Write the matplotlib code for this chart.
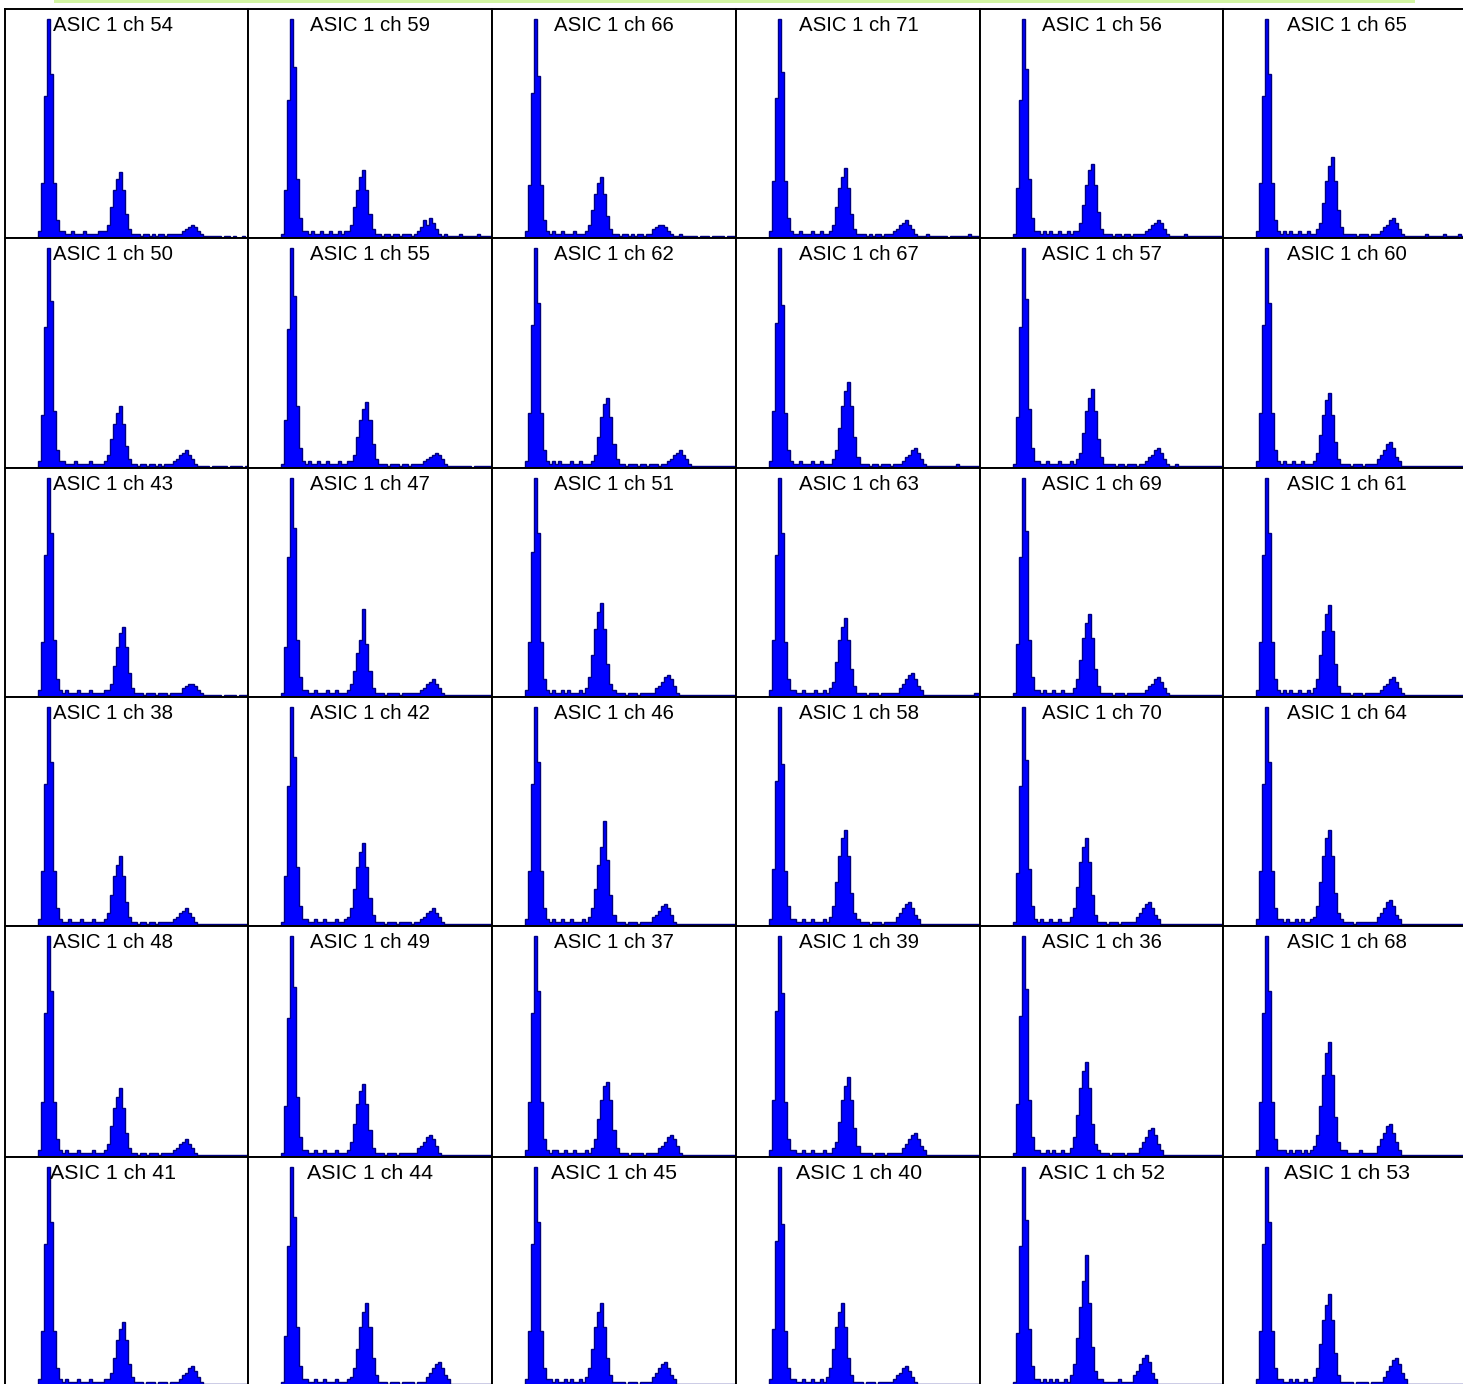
import numpy as np
import matplotlib
matplotlib.use("Agg")
import matplotlib.pyplot as plt
from matplotlib.patches import Rectangle

# ---- histogram bin contents (percent of pedestal peak), 3-px-wide bins ----
ch54 = [0,0,0,0,0,0,0,0,0,0,0, 3,25,65,100,75,25,8,3, 3,2,2,3,2,2,2,3,2,2,2,2,3,3, 3,6,14,22,27,30,22,11,4,2, 2,2,1,2,2,1,2,1,2,2,1,2,2,2,2, 2,3,4,5,6,5,3,2, 1,1,1,1,1,1,0,1,1,0,1,0,0,1,0]
ch59 = [0,0,0,0,0,0,0,0,0,0,0, 2,22,63,100,78,27,9,3, 3,2,3,2,2,3,2,2,3,2,2,3,2,3, 3,6,14,22,28,31,22,11,4,2, 2,1,2,2,1,2,2,1,2,2,2,1,2, 3,5,8,6,9,7,4,2, 1,2,1,1,1,1,2,1,1,1,1,1,2,1,1,1,1]
ch66 = [0,0,0,0,0,0,0,0,0,0,0, 3,24,66,100,74,24,8,3, 2,3,2,2,3,2,2,2,3,2,2,2, 3,6,13,20,25,28,20,10,4,2, 2,1,2,2,1,2,1,2,2,1,2, 2,4,5,6,6,5,3,2, 1,1,2,1,1,1,1,1,0,1,1,1,0,1,1,1,1,0,1,1,1]
ch71 = [0,0,0,0,0,0,0,0,0,0,0, 3,26,64,100,76,26,9,3, 2,2,3,2,2,2,3,2,2,3,2,2, 3,6,14,23,28,32,23,11,4,2, 2,2,1,2,1,2,2,1,2,2,2, 3,4,6,7,8,6,4,2, 1,1,1,2,1,1,1,1,1,1,0,1,1,1,1,1,1,2,1,1,1]
ch56 = [0,0,0,0,0,0,0,0,0,0,0, 2,23,63,100,77,27,9,3, 3,2,3,2,3,2,2,3,2,2,3,2,3, 3,7,15,24,31,34,24,12,4,2, 2,2,1,2,2,1,2,2,1,2,2,2,2, 3,4,6,7,8,7,4,2, 1,1,1,1,1,2,1,1,1,1,1,1,1,1,1,1,1,1]
ch65 = [0,0,0,0,0,0,0,0,0,0,0, 3,25,65,100,75,25,8,3, 2,3,2,3,2,2,3,2,2,3,2,2, 4,7,16,26,33,37,26,13,5,2, 2,2,2,1,2,2,2,1,2,2,2, 3,5,6,8,9,7,4,2, 1,1,1,1,1,1,1,2,1,1,1,1,1,2,1,1,1,1,2,1,1]

ch50 = [0,0,0,0,0,0,0,0,0,0,0, 3,24,64,100,76,26,8,3, 3,2,2,2,3,2,2,2,2,3,2,2,2,2, 3,6,13,20,25,28,20,10,4,2, 2,1,2,2,1,2,2,1,2,1,2,2,2, 3,4,6,7,8,6,4,2, 1,1,1,1,0,1,1,1,1,1,0,1,1,1,1,0,1]
ch55 = [0,0,0,0,0,0,0,0,0,0,0, 2,22,63,100,78,28,9,3, 2,3,2,2,3,2,2,3,2,2,2,3,2,2,3, 3,6,14,22,27,30,22,11,4,2, 2,2,1,2,2,2,1,2,2,1,2,2,2,2, 3,4,5,6,7,6,4,2, 1,1,1,1,1,1,1,1,0,1,1,1,1,1,1]
ch62 = [0,0,0,0,0,0,0,0,0,0,0, 3,25,65,100,75,25,8,3, 2,3,2,3,2,2,2,3,2,2,3,2,2,2, 3,6,14,23,29,32,23,11,4,2, 2,1,2,2,2,1,2,2,1,2,2,2,1,2,2, 3,4,6,7,8,6,4,2, 1,1,1,1,1,1,1,1,1,1,1,1,1,1,1]
ch67 = [0,0,0,0,0,0,0,0,0,0,0, 3,26,66,100,74,25,8,3, 2,2,3,2,2,2,3,2,2,3,2,2,2, 4,8,18,28,35,39,28,14,5,2, 2,2,1,2,2,1,2,2,2,1,2,2,2, 3,5,6,8,9,7,4,2, 1,1,1,1,1,1,1,1,1,1,2,1,1,1,1,1,1,1]
ch57 = [0,0,0,0,0,0,0,0,0,0,0, 2,23,64,100,77,27,9,3, 3,2,2,3,2,2,2,3,2,2,2,3,2, 4,7,16,26,32,36,26,13,5,2, 2,2,2,1,2,2,1,2,2,2,1,2,2, 3,5,6,8,9,7,4,2, 1,1,2,1,1,1,1,1,1,1,1,1,1,1,1,1,1,1]
ch60 = [0,0,0,0,0,0,0,0,0,0,0, 3,25,65,100,75,25,8,3, 2,3,2,2,3,2,2,3,2,2,2, 3,7,15,24,31,34,24,12,4,2, 2,2,1,2,2,2,1,2,2,2,2, 4,6,8,11,12,9,5,3, 1,1,1,1,1,1,1,1,1,1,1,1,1,1,1,1,1,1,1,1,1,2]

ch43 = [0,0,0,0,0,0,0,0,0,0,0, 3,25,65,100,75,26,8,3, 2,3,2,2,2,3,2,2,2,3,2,2,2,2,3, 3,6,14,23,29,32,23,11,4,2, 2,2,1,2,2,2,1,2,2,2,1,2,2,2, 2,4,5,6,6,5,3,2, 1,1,1,1,1,1,0,1,1,1,1,0,1,1,1]
ch47 = [0,0,0,0,0,0,0,0,0,0,0, 2,23,64,100,77,26,9,3, 3,2,2,3,2,2,2,3,2,2,3,2,2,2, 3,6,12,20,26,40,24,12,4,2, 2,2,1,2,2,2,2,1,2,2,2,2,2,2, 3,4,6,7,8,6,4,2, 1,1,1,1,1,1,1,1,1,1,1,1,1,1,1,1]
ch51 = [0,0,0,0,0,0,0,0,0,0,0, 3,25,66,100,75,25,8,3, 2,3,2,2,3,2,3,2,2,2,3,2, 4,9,19,31,39,43,31,15,6,3, 2,2,2,1,2,2,2,1,2,2,2,2,2, 4,5,7,9,10,8,5,2, 1,1,1,1,1,1,1,1,1,1,1,1,1,1,1,1,1,1,1]
ch63 = [0,0,0,0,0,0,0,0,0,0,0, 3,26,65,100,75,25,8,3, 3,2,2,3,2,2,2,3,2,2,3,2, 4,7,16,26,32,36,26,13,5,2, 2,2,1,2,2,2,1,2,2,2,2,2,2, 4,6,8,10,11,8,5,3, 1,1,1,1,1,1,1,1,1,1,1,1,1,1,1,1,1,2,2]
ch69 = [0,0,0,0,0,0,0,0,0,0,0, 2,24,64,100,76,26,9,3, 3,2,3,2,2,3,2,2,3,2,2,2, 4,8,17,27,34,38,27,13,5,2, 2,2,2,1,2,2,2,1,2,2,2,2,2,2, 3,5,6,8,9,7,4,2, 1,1,1,1,1,1,1,1,1,1,1,1,1,1,1,1,1,1]
ch61 = [0,0,0,0,0,0,0,0,0,0,0, 3,25,65,100,75,25,8,3, 2,3,2,3,2,2,3,2,2,3,2, 4,8,19,30,38,42,30,15,5,2, 2,2,1,2,2,2,1,2,2,2,2,2, 3,5,6,8,9,7,4,2, 1,1,1,1,1,1,1,1,1,1,1,1,1,1,1,1,1,1,1,1,1]

ch38 = [0,0,0,0,0,0,0,0,0,0,0, 3,25,65,100,75,25,8,3, 2,2,3,2,2,2,3,2,2,2,3,2,2,2, 3,6,14,23,28,32,23,11,4,2, 2,1,2,2,1,2,2,1,2,2,2,2,2, 3,4,6,7,8,6,4,2, 1,1,1,1,1,1,1,1,1,1,1,1,1,1,1,1,1]
ch42 = [0,0,0,0,0,0,0,0,0,0,0, 2,23,64,100,77,27,9,3, 3,2,2,3,2,2,3,2,2,2,3,2,2,3, 4,8,17,27,34,38,27,13,5,2, 2,2,1,2,2,2,1,2,2,2,2,1,2,2, 3,4,6,7,8,6,4,2, 1,1,1,1,1,1,1,1,1,1,1,1,1,1,1,1]
ch46 = [0,0,0,0,0,0,0,0,0,0,0, 3,25,65,100,75,25,8,3, 2,3,2,2,3,2,2,3,2,2,2,3,2, 4,8,17,28,36,48,30,14,5,2, 2,2,1,2,2,2,1,2,2,2,2, 4,5,7,9,10,8,5,2, 1,1,1,1,1,1,1,1,1,1,1,1,1,1,1,1,1,1,1,1]
ch58 = [0,0,0,0,0,0,0,0,0,0,0, 3,26,66,100,74,25,9,3, 3,2,2,3,2,2,3,2,2,2,3,2, 4,9,20,32,40,44,32,15,6,3, 2,2,2,1,2,2,2,1,2,2,2,2, 4,6,8,10,11,8,5,3, 1,1,1,1,1,1,1,1,1,1,1,1,1,1,1,1,1,1,1,1]
ch70 = [0,0,0,0,0,0,0,0,0,0,0, 2,24,64,100,76,26,9,3, 2,3,2,2,3,2,2,3,2,2,2, 4,8,18,29,36,40,29,14,5,2, 2,2,1,2,2,2,1,2,2,2,2,2, 4,6,8,10,11,8,5,3, 1,1,1,1,1,1,1,1,1,1,1,1,1,1,1,1,1,1,1,1,1]
ch64 = [0,0,0,0,0,0,0,0,0,0,0, 3,25,65,100,75,25,8,3, 3,2,3,2,2,3,2,3,2,2,3, 4,9,20,32,40,44,32,15,6,3, 2,2,2,1,2,2,2,2,2,2,2, 4,6,8,11,12,9,5,3, 1,1,1,1,1,1,1,1,1,1,1,1,1,1,1,1,1,1,1,1,1,1]

ch48 = [0,0,0,0,0,0,0,0,0,0,0, 3,25,65,100,75,25,8,3, 2,3,2,2,2,3,2,2,2,2,3,2,2,2, 3,6,14,22,27,31,22,11,4,2, 2,1,2,2,1,2,2,2,1,2,2,2,2, 3,4,6,7,8,6,4,2, 1,1,1,1,1,1,1,1,1,1,1,1,1,1,1,1,1]
ch49 = [0,0,0,0,0,0,0,0,0,0,0, 2,23,63,100,77,27,9,3, 3,2,2,3,2,2,3,2,2,2,3,2,2,2, 3,7,15,24,30,33,24,12,4,2, 2,2,1,2,2,2,1,2,2,2,2,2,2, 4,5,7,9,10,8,5,2, 1,1,1,1,1,1,1,1,1,1,1,1,1,1,1,1,1]
ch37 = [0,0,0,0,0,0,0,0,0,0,0, 3,25,65,100,75,25,8,3, 2,3,3,2,2,3,2,2,3,2,2,2,3,2, 4,8,17,26,32,34,26,12,4,2, 2,2,1,2,2,2,2,1,2,2,2,2, 4,5,7,9,10,8,5,2, 1,1,1,1,1,1,1,1,1,1,1,1,1,1,1,1,1,1]
ch39 = [0,0,0,0,0,0,0,0,0,0,0, 3,26,66,100,74,25,8,3, 3,2,2,3,2,2,3,2,2,2,3,2,2, 4,7,16,26,32,36,26,13,5,2, 2,2,2,1,2,2,2,1,2,2,2,2,2, 4,6,8,10,11,8,5,3, 1,1,1,1,1,1,1,1,1,1,1,1,1,1,1,1,1,1]
ch36 = [0,0,0,0,0,0,0,0,0,0,0, 2,24,64,100,76,26,9,3, 3,2,2,3,2,3,2,2,3,2,2, 4,9,19,31,39,43,31,15,6,3, 2,2,2,1,2,2,2,2,1,2,2,2,2, 4,7,9,12,13,10,6,3, 1,1,1,1,1,1,1,1,1,1,1,1,1,1,1,1,1,1,1,1]
ch68 = [0,0,0,0,0,0,0,0,0,0,0, 3,25,65,100,75,25,8,3, 3,3,2,3,2,3,3,2,3,2,3, 5,10,23,37,47,52,37,18,7,3, 3,2,2,2,2,3,2,2,2,2,2, 5,8,11,14,15,11,7,3, 1,1,1,1,1,1,1,1,1,1,1,1,1,1,1,1,1,1,1,1,1,1]

ch41 = [0,0,0,0,0,0,0,0,0,0,0, 3,25,65,100,75,25,8,3, 2,3,2,2,2,3,2,2,2,3,2,2,2,2,3, 3,6,13,21,26,29,21,10,4,2, 2,2,1,2,2,2,1,2,2,2,1,2,2,2, 3,5,6,8,9,7,4,2, 1,1,1,1,1,1,1,1,1,1,1,1,1,1,1]
ch44 = [0,0,0,0,0,0,0,0,0,0,0, 2,23,64,100,77,27,9,3, 3,2,2,3,2,2,3,2,2,2,3,2,2,2,3, 4,8,17,27,34,38,27,13,5,2, 2,2,1,2,2,2,1,2,2,2,2,1,2,2,2, 4,6,8,10,11,8,5,3, 1,1,1,1,1,1,1,1,1,1,1,1,1,1]
ch45 = [0,0,0,0,0,0,0,0,0,0,0, 3,25,65,100,75,25,8,3, 3,2,3,2,2,3,2,3,2,2,3,2, 4,8,17,27,34,38,27,13,5,2, 2,2,2,1,2,2,2,1,2,2,2,2, 4,6,8,10,11,8,5,3, 1,1,1,1,1,1,1,1,1,1,1,1,1,1,1,1,1,1,1,1]
ch40 = [0,0,0,0,0,0,0,0,0,0,0, 3,26,66,100,74,25,8,3, 3,2,2,3,2,2,3,2,2,3,2, 4,8,17,27,34,38,27,13,5,2, 2,2,1,2,2,2,1,2,2,2,2,2, 3,5,6,8,9,7,4,2, 1,1,1,1,1,1,1,1,1,1,1,1,1,1,1,1,1,1,1,1,1]
ch52 = [0,0,0,0,0,0,0,0,0,0,0, 2,24,64,100,76,26,9,3, 3,2,3,2,3,2,3,2,2,3,2, 5,10,22,36,48,60,38,18,7,3, 3,2,2,2,2,2,3,2,2,2,2, 5,7,10,13,14,11,6,3, 1,1,1,1,1,1,1,1,1,1,1,1,1,1,1,1,1,1,1,1,1,1]
ch53 = [0,0,0,0,0,0,0,0,0,0,0, 3,25,65,100,75,25,8,3, 3,2,2,3,2,3,2,2,3,2,2, 4,8,19,30,37,42,30,15,5,2, 2,2,2,1,2,2,2,2,1,2,2,2,2, 4,7,9,12,13,10,6,3, 1,1,1,1,1,1,1,1,1,1,1,1,1,1,1,1,1,1,1,1]

# grid order (row by row) and panel labels
channels = [54, 59, 66, 71, 56, 65,
            50, 55, 62, 67, 57, 60,
            43, 47, 51, 63, 69, 61,
            38, 42, 46, 58, 70, 64,
            48, 49, 37, 39, 36, 68,
            41, 44, 45, 40, 52, 53]
hists = {54: ch54, 59: ch59, 66: ch66, 71: ch71, 56: ch56, 65: ch65,
         50: ch50, 55: ch55, 62: ch62, 67: ch67, 57: ch57, 60: ch60,
         43: ch43, 47: ch47, 51: ch51, 63: ch63, 69: ch69, 61: ch61,
         38: ch38, 42: ch42, 46: ch46, 58: ch58, 70: ch70, 64: ch64,
         48: ch48, 49: ch49, 37: ch37, 39: ch39, 36: ch36, 68: ch68,
         41: ch41, 44: ch44, 45: ch45, 40: ch40, 52: ch52, 53: ch53}
label_fmt = "ASIC 1 ch {}"

# ---- layout (pixels) ----
W, H = 1463, 1384
DPI = 100
col_left = [5, 248, 492, 736, 980, 1223, 1467]
row_top = [9, 238, 468, 697, 926, 1157, 1386]
label_center = [108, 122, 122, 123, 122, 124]

plt.rcParams['font.family'] = ['Liberation Sans', 'DejaVu Sans']
fig = plt.figure(figsize=(W / DPI, H / DPI), dpi=DPI)
fig.patch.set_facecolor('white')

# green strip at the very top
fig.patches.append(Rectangle((54 / W, 1 - 3 / H), (1415 - 54) / W, 3 / H,
                             transform=fig.transFigure, facecolor='#d2f5a2',
                             edgecolor='none', zorder=0))

for i, ch in enumerate(channels):
    r, c = divmod(i, 6)
    x0, x1 = col_left[c], col_left[c + 1]
    y0, y1 = row_top[r], row_top[r + 1]
    ax = fig.add_axes([x0 / W, 1 - y1 / H, (x1 - x0) / W, (y1 - y0) / H])
    vals = np.asarray(hists[ch], dtype=float)
    edges = np.arange(len(vals) + 1)
    ax.stairs(vals, edges, fill=True, facecolor='#0000ff',
              edgecolor='#000080', linewidth=1.0)
    ax.set_xlim(0, 81)
    ax.set_ylim(0, 100 * (y1 - y0) / (y1 - y0 - 10))
    ax.set_xticks([])
    ax.set_yticks([])
    for s in ax.spines.values():
        s.set_linewidth(1.4)
        s.set_color('black')
    fs = 15.4 if r == 5 else 14.7
    ax.text(label_center[c] / (x1 - x0), 1 - 22 / (y1 - y0), label_fmt.format(ch),
            transform=ax.transAxes, ha='center', va='baseline', fontsize=fs,
            color='black')

fig.savefig('out.png', dpi=DPI)
